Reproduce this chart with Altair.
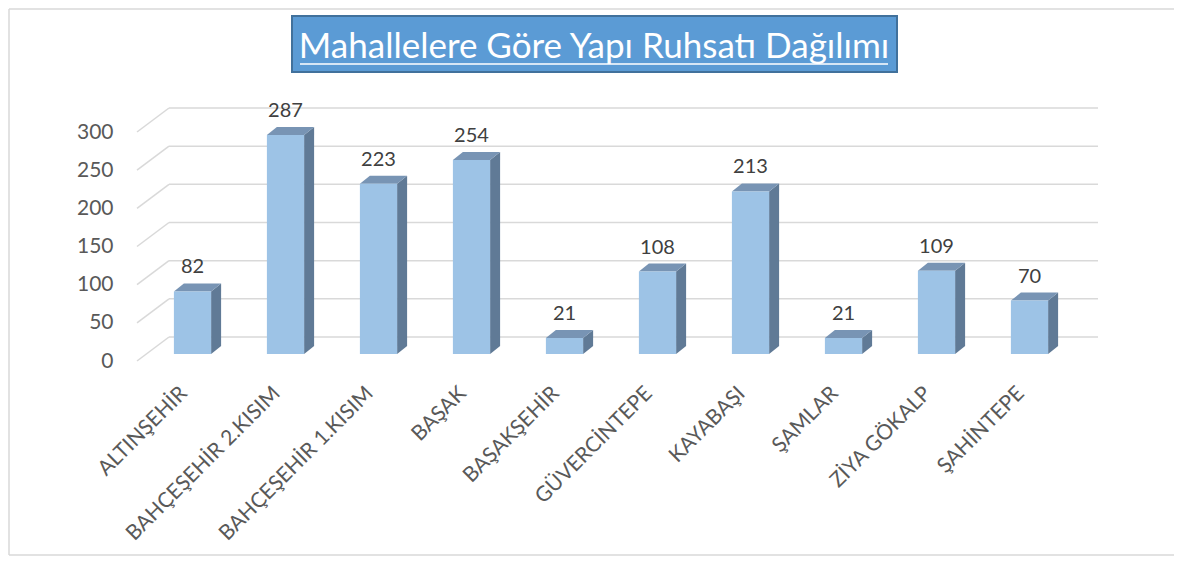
import altair as alt
import pandas as pd

# ---- data ----
categories = ["ALTINŞEHİR", "BAHÇEŞEHİR 2.KISIM", "BAHÇEŞEHİR 1.KISIM", "BAŞAK",
              "BAŞAKŞEHİR", "GÜVERCİNTEPE", "KAYABAŞI", "ŞAMLAR", "ZİYA GÖKALP", "ŞAHİNTEPE"]
values = [82, 287, 223, 254, 21, 108, 213, 21, 109, 70]
y_ticks = [0, 50, 100, 150, 200, 250, 300]
title_text = "Mahallelere Göre Yapı Ruhsatı Dağılımı"

# ---- style constants ----
FONT = "Lato"
W, H = 930, 229
PX_PER_UNIT = H / 300.0
HALF = 0.2                 # half bar width in category units
DEPTH_X = 10 / 93.0        # 3D depth (category units)
DEPTH_Y = 8 / PX_PER_UNIT  # 3D depth (value units)
FRONT_DX, FRONT_DY = 9, -7
WALL_DX, WALL_DY = 32, -24

FRONT = "#9DC3E6"
TOP = "#7894B4"
SIDE = "#607A96"
GRID = "#D9D9D9"
TXT = "#595959"

bars = pd.DataFrame({"idx": list(range(len(categories))), "cat": categories, "val": values})
bars["x1"] = bars["idx"] - HALF
bars["x2"] = bars["idx"] + HALF

faces = []
for i, (c, v) in enumerate(zip(categories, values)):
    for t in (0, 1):
        faces.append({
            "cat": c,
            "sx": i + HALF + t * DEPTH_X, "sy": v + t * DEPTH_Y, "sy2": t * DEPTH_Y,
            "ty": v + t * DEPTH_Y, "tx": i - HALF + t * DEPTH_X, "tx2": i + HALF + t * DEPTH_X,
        })
faces = pd.DataFrame(faces)
grid = pd.DataFrame({"tick": y_ticks})
one = pd.DataFrame({"a": [0]})

label_expr = "[" + ",".join("'" + c + "'" for c in categories) + "][datum.value]"

xscale = alt.Scale(domain=[-0.5, len(categories) - 0.5], nice=False, zero=False)
yscale = alt.Scale(domain=[0, 300], nice=False)

x_axis = alt.Axis(values=list(range(len(categories))), labelExpr=label_expr, title=None,
                  labelAngle=-45, labelAlign="right", labelBaseline="middle", labelPadding=29,
                  domain=False, ticks=False, grid=False, labelFont=FONT, labelFontSize=21,
                  labelColor=TXT, labelOverlap=False, labelFlush=False, labelBound=False,
                  labelLimit=500)
y_axis = alt.Axis(values=y_ticks, title=None, domain=False, ticks=False, grid=False,
                  labelFont=FONT, labelFontSize=21, labelColor=TXT, labelPadding=24,
                  labelOverlap=False, labelFlush=False, labelBound=False)

# frame (left, top, bottom edges) + title box
frame_top = alt.Chart(one).mark_rule(color="#D9D9D9", strokeWidth=1.5).encode(
    x=alt.value(-128), x2=alt.value(1040), y=alt.value(-123))
frame_bot = alt.Chart(one).mark_rule(color="#D9D9D9", strokeWidth=1.5).encode(
    x=alt.value(-128), x2=alt.value(1040), y=alt.value(423))
frame_left = alt.Chart(one).mark_rule(color="#D9D9D9", strokeWidth=1.5).encode(
    x=alt.value(-128), y=alt.value(-123), y2=alt.value(423))
tbox = alt.Chart(one).mark_rect(fill="#5B9BD5", stroke="#41719C", strokeWidth=2).encode(
    x=alt.value(155), x2=alt.value(760), y=alt.value(-116), y2=alt.value(-60))
ttext = alt.Chart(one).mark_text(text=title_text, font=FONT, fontSize=35, color="white",
                                 align="center", baseline="alphabetic").encode(
    x=alt.value(457), y=alt.value(-74))
tline = alt.Chart(one).mark_rule(color="white", strokeWidth=1.5).encode(
    x=alt.value(163), x2=alt.value(751), y=alt.value(-68))

# gridlines (back wall + floor diagonals)
back = alt.Chart(grid).mark_rule(color=GRID, strokeWidth=1.5, xOffset=WALL_DX, x2Offset=WALL_DX - 1,
                                 yOffset=WALL_DY).encode(
    y=alt.Y("tick:Q", scale=yscale, axis=y_axis),
    x=alt.datum(-0.5, scale=xscale, axis=x_axis), x2=alt.datum(len(categories) - 0.5))
diag = alt.Chart(grid).mark_rule(color=GRID, strokeWidth=1.5, x2Offset=WALL_DX,
                                 y2Offset=WALL_DY).encode(
    y=alt.Y("tick:Q", scale=yscale, axis=y_axis), y2=alt.Y2("tick:Q"),
    x=alt.datum(-0.5, scale=xscale, axis=x_axis), x2=alt.datum(-0.5))

side = alt.Chart(faces).mark_area(color=SIDE, orient="vertical", xOffset=FRONT_DX,
                                  yOffset=FRONT_DY, y2Offset=FRONT_DY).encode(
    x=alt.X("sx:Q", scale=xscale, axis=x_axis), y=alt.Y("sy:Q", scale=yscale, axis=y_axis),
    y2="sy2:Q", detail="cat:N")
top = alt.Chart(faces).mark_area(color=TOP, orient="horizontal", xOffset=FRONT_DX,
                                 x2Offset=FRONT_DX, yOffset=FRONT_DY).encode(
    y=alt.Y("ty:Q", scale=yscale, axis=y_axis), x=alt.X("tx:Q", scale=xscale, axis=x_axis),
    x2="tx2:Q", detail="cat:N")
front = alt.Chart(bars).mark_rect(color=FRONT, xOffset=FRONT_DX, x2Offset=FRONT_DX,
                                  yOffset=FRONT_DY, y2Offset=FRONT_DY).encode(
    x=alt.X("x1:Q", scale=xscale, axis=x_axis), x2="x2:Q",
    y=alt.Y("val:Q", scale=yscale, axis=y_axis), y2=alt.datum(0))
labels = alt.Chart(bars).mark_text(font=FONT, fontSize=20, color="#404040", align="center",
                                   baseline="alphabetic", xOffset=FRONT_DX, yOffset=FRONT_DY - 18).encode(
    x=alt.X("idx:Q", scale=xscale, axis=x_axis), y=alt.Y("val:Q", scale=yscale, axis=y_axis),
    text="val:Q")

chart = alt.layer(frame_top, frame_bot, frame_left, tbox, ttext, tline,
                  back, diag, side, top, front, labels).properties(
    width=W, height=H,
    padding={"left": 129, "top": 124, "right": 107, "bottom": 195},
    autosize=alt.AutoSizeParams(type="none"),
).configure_view(stroke=None)

chart.save("out.html", embed_options={"renderer": "svg", "actions": False})
